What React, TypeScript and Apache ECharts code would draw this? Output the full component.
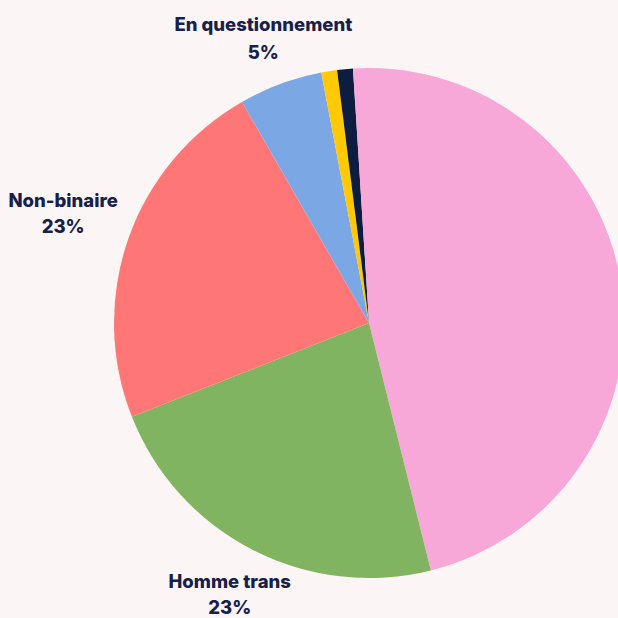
import React, { useEffect, useRef } from "react";
import * as echarts from "echarts";

const categories = [
  "Femme trans",
  "Homme trans",
  "Non-binaire",
  "En questionnement",
  "Agenre",
  "Autre",
  "Ne sait pas",
];
const values = [46.1, 22.9, 22.7, 5.3, 1.0, 1.0, 1.0];
const colors = ["#F7A8D8", "#80B461", "#FF7676", "#7BA7E4", "#FFCA05", "#0E1C40", "#F7A8D8"];
const labelled = [false, true, true, true, false, false, false];

export default function App() {
  const ref = useRef<HTMLDivElement>(null);
  useEffect(() => {
    if (!ref.current) return;
    const chart = echarts.init(ref.current, null, { renderer: "svg" });
    const cx = 369;
    const cy = 323;
    const radius = 255;
    const labelDist: Record<number, number> = { 1: 305, 2: 324, 3: 304 };
    const labelShift: Record<number, number> = { 2: -3 };
    const total = values.reduce((a, b) => a + b, 0);
    const midAngle = (i: number) => {
      let before = 0;
      for (let k = 0; k < i; k++) before += values[k];
      return ((before + values[i] / 2) / total) * Math.PI * 2;
    };
    chart.setOption({
      animation: false,
      backgroundColor: "#FCF5F5",
      series: [
        {
          type: "pie",
          center: [cx, cy],
          radius: [0, radius],
          startAngle: 90,
          clockwise: true,
          percentPrecision: 0,
          avoidLabelOverlap: false,
          itemStyle: { borderWidth: 0 },
          label: {
            show: true,
            position: "outside",
            formatter: "{b}\n{d}%",
            color: "#16204A",
            fontFamily: "Inter",
            fontWeight: 800,
            fontSize: 18.5,
            lineHeight: 26,
          },
          labelLine: { show: false },
          labelLayout: (params: any) => {
            const i = params.dataIndex;
            const a = midAngle(i);
            const d = labelDist[i] ?? 310;
            return {
              x: cx + d * Math.sin(a),
              y: cy - d * Math.cos(a) + (labelShift[i] ?? 0),
              align: "center",
              verticalAlign: "middle",
            };
          },
          emphasis: { disabled: true },
          data: categories.map((name, i) => ({
            name,
            value: values[i],
            itemStyle: { color: colors[i] },
            label: i === 3 ? { show: labelled[i], lineHeight: 28 } : { show: labelled[i] },
          })),
        },
      ],
    });
    return () => chart.dispose();
  }, []);
  return (
    <div
      ref={ref}
      style={{ position: "fixed", left: 0, top: 0, width: 618, height: 618 }}
    />
  );
}
